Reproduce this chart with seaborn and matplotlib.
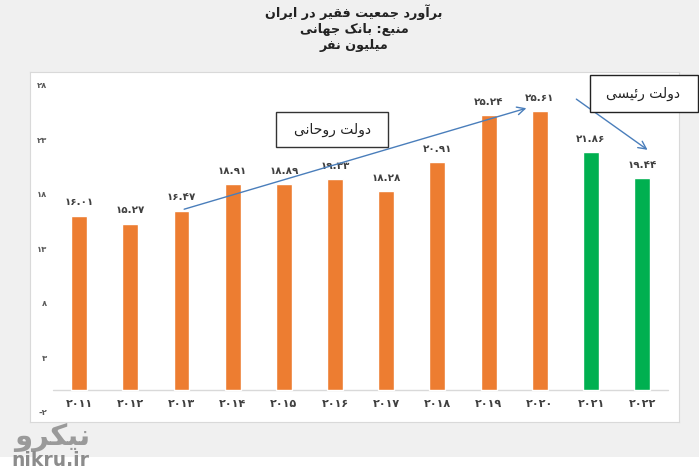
import matplotlib
matplotlib.use("Agg")
import matplotlib.pyplot as plt
from matplotlib.patches import Rectangle
import seaborn as sns
import pandas as pd

# ---------------- data ----------------
years = ["2011", "2012", "2013", "2014", "2015", "2016", "2017", "2018", "2019", "2020", "2021", "2022"]
poor_millions = [16.01, 15.27, 16.47, 18.91, 18.89, 19.33, 18.28, 20.91, 25.24, 25.61, 21.86, 19.44]
government = ["rouhani"] * 10 + ["raisi"] * 2
y_ticks = [-2, 3, 8, 13, 18, 23, 28]

title_lines = ["برآورد جمعیت فقیر در ایران", "منبع: بانک جهانی", "میلیون نفر"]
label_rouhani = "دولت روحانی"
label_raisi = "دولت رئیسی"

# ---------------- minimal Persian shaping ----------------
FORMS = {
    '\u0627': ('\uFE8D', '\uFE8E', None, None),
    '\u0622': ('\uFE81', '\uFE82', None, None),
    '\u0628': ('\uFE8F', '\uFE90', '\uFE91', '\uFE92'),
    '\u062A': ('\uFE95', '\uFE96', '\uFE97', '\uFE98'),
    '\u062C': ('\uFE9D', '\uFE9E', '\uFE9F', '\uFEA0'),
    '\u062D': ('\uFEA1', '\uFEA2', '\uFEA3', '\uFEA4'),
    '\u062F': ('\uFEA9', '\uFEAA', None, None),
    '\u0631': ('\uFEAD', '\uFEAE', None, None),
    '\u0633': ('\uFEB1', '\uFEB2', '\uFEB3', '\uFEB4'),
    '\u0639': ('\uFEC9', '\uFECA', '\uFECB', '\uFECC'),
    '\u0641': ('\uFED1', '\uFED2', '\uFED3', '\uFED4'),
    '\u0642': ('\uFED5', '\uFED6', '\uFED7', '\uFED8'),
    '\u0644': ('\uFEDD', '\uFEDE', '\uFEDF', '\uFEE0'),
    '\u0645': ('\uFEE1', '\uFEE2', '\uFEE3', '\uFEE4'),
    '\u0646': ('\uFEE5', '\uFEE6', '\uFEE7', '\uFEE8'),
    '\u0647': ('\uFEE9', '\uFEEA', '\uFEEB', '\uFEEC'),
    '\u0648': ('\uFEED', '\uFEEE', None, None),
    '\u0626': ('\uFE89', '\uFE8A', '\uFE8B', '\uFE8C'),
    '\u06CC': ('\uFBFC', '\uFBFD', '\uFBFE', '\uFBFF'),
    '\u06A9': ('\uFB8E', '\uFB8F', '\uFB90', '\uFB91'),
}


def shape(s):
    out = []
    for i, c in enumerate(s):
        if c not in FORMS:
            out.append(c)
            continue
        f = FORMS[c]
        prev = s[i - 1] if i > 0 else None
        nxt = s[i + 1] if i + 1 < len(s) else None
        jp = prev in FORMS and FORMS[prev][2] is not None
        jn = f[2] is not None and nxt in FORMS
        if jp and jn:
            g = f[3]
        elif jp:
            g = f[1]
        elif jn:
            g = f[2]
        else:
            g = f[0]
        out.append(g)
    return ''.join(out).replace('\u200c', '')[::-1]


FA_DIGITS = str.maketrans("0123456789", "۰۱۲۳۴۵۶۷۸۹")


def fa_num(s):
    return str(s).translate(FA_DIGITS)


# ---------------- figure ----------------
W, H, DPI = 699, 473, 100
sns.set_theme(style="white")
plt.rcParams['font.family'] = ['DejaVu Sans']

fig = plt.figure(figsize=(W / DPI, H / DPI), dpi=DPI, facecolor="#f0f0f0")


def fx(px):
    return px / W


def fy(py):
    return 1 - py / H


# white strip at bottom
fig.patches.append(Rectangle((0, 0), 1, fy(457), transform=fig.transFigure,
                             facecolor="white", edgecolor="none", zorder=-5))

ax = fig.add_axes([fx(30), fy(422), fx(679) - fx(30), fy(72) - fy(422)])
ax.set_facecolor("white")

df = pd.DataFrame({"year": years, "value": poor_millions, "gov": government})
palette = {"rouhani": "#ED7D31", "raisi": "#00B050"}
sns.barplot(data=df, x="year", y="value", hue="gov", palette=palette, dodge=False,
            width=0.31, legend=False, ax=ax, saturation=1)

for cont in ax.containers:
    ax.bar_label(cont, labels=[fa_num(f"{v:.2f}") for v in cont.datavalues],
                 padding=6, fontsize=7.5, fontweight="bold", color="#404040")

ax.set_xlim(-0.96, 11.72)
ax.set_ylim(-2.92, 29.19)
ax.axhline(0, xmin=0.035, xmax=0.983, color="#d9d9d9", lw=1, zorder=0)

ax.set_yticks(y_ticks)
ax.set_yticklabels([fa_num(t) for t in y_ticks], fontsize=6,
                   fontweight="bold", color="#595959")
ax.tick_params(axis="y", length=0, pad=-12.5)
ax.set_xticks(range(len(years)))
ax.set_xticklabels([fa_num(y) for y in years], fontsize=8, fontweight="bold", color="#404040")
ax.tick_params(axis="x", length=0, pad=-16.5)
ax.set_xlabel("")
ax.set_ylabel("")
for sp in ax.spines.values():
    sp.set_color("#d9d9d9")
    sp.set_linewidth(0.8)

# arrows
arrow_kw = dict(arrowstyle="->", color="#4a7ebb", lw=1, mutation_scale=14)
ax.annotate("", xy=(8.79, 25.94), xytext=(2.0, 16.53), arrowprops=arrow_kw, annotation_clip=False)
ax.annotate("", xy=(11.15, 21.9), xytext=(9.67, 26.85), arrowprops=arrow_kw, annotation_clip=False)

# labelled boxes
fig.patches.append(Rectangle((fx(276), fy(147)), fx(388) - fx(276), fy(112) - fy(147),
                             transform=fig.transFigure, facecolor="white",
                             edgecolor="#333333", lw=1, zorder=5))
fig.text(fx(332), fy(129.5), shape(label_rouhani), ha="center", va="center",
         fontsize=10, color="#222222", zorder=6)
fig.patches.append(Rectangle((fx(590), fy(112)), fx(698) - fx(590), fy(75) - fy(112),
                             transform=fig.transFigure, facecolor="white",
                             edgecolor="#222222", lw=1, zorder=5))
fig.text(fx(643), fy(94), shape(label_raisi), ha="center", va="center",
         fontsize=10, color="#222222", zorder=6)

# title
for line, py in zip(title_lines, [12, 29, 46]):
    fig.text(fx(354), fy(py), shape(line), ha="center", va="center",
             fontsize=9.2, fontweight="bold", color="#222222")

# watermark
fig.text(fx(52), fy(437), shape("نیکرو"), ha="center", va="center",
         fontsize=21, fontweight="bold", color="#9a9a9a")
fig.text(fx(50), fy(460), "nikru.ir", ha="center", va="center",
         fontsize=13.5, fontweight="bold", color="#8c8c8c")

fig.savefig("out.png", dpi=DPI, facecolor=fig.get_facecolor())
